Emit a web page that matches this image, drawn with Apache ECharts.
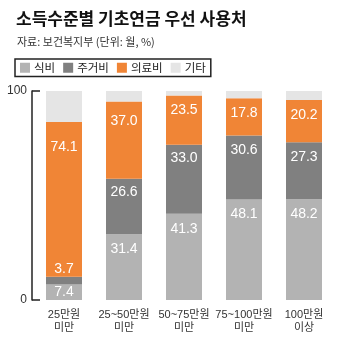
<!DOCTYPE html>
<html>
<head>
<meta charset="utf-8">
<script src="https://cdn.jsdelivr.net/npm/echarts@6/dist/echarts.min.js"></script>
<style>
html,body{margin:0;padding:0;background:#fff;}
#c{width:350px;height:351px;}
</style>
</head>
<body>
<div id="c"></div>
<script>
const categories = ['25만원\n미만', '25~50만원\n미만', '50~75만원\n미만', '75~100만원\n미만', '100만원\n이상'];
const seriesNames = ['식비', '주거비', '의료비', '기타'];
const food = [7.4, 31.4, 41.3, 48.1, 48.2];
const housing = [3.7, 26.6, 33.0, 30.6, 27.3];
const medical = [74.1, 37.0, 23.5, 17.8, 20.2];
const other = [14.8, 5.0, 2.2, 3.5, 4.3];
const yTicks = [0, 100];

const colors = ['#b3b3b3', '#808080', '#f08536', '#e5e5e5'];
const values = [food, housing, medical, other];
const labelFont = "'Liberation Sans', 'Noto Sans CJK KR', sans-serif";
// label placement tweaks (style only), keyed by series index and data index
const labelTweaks = {
  '0-0': {position: 'inside', distance: 0},
  '1-0': {position: 'top', distance: 1},
  '2-0': {distance: 18},
  '2-1': {distance: 13},
  '1-1': {distance: 6},
  '1-2': {distance: 6}
};

const series = seriesNames.map((name, si) => ({
  name: name,
  type: 'bar',
  stack: 'total',
  barWidth: 36,
  itemStyle: {color: colors[si]},
  label: {
    show: si < 3,
    position: 'insideTop',
    distance: 8,
    color: '#fff',
    fontSize: 14,
    fontFamily: labelFont,
    formatter: p => p.value.toFixed(1)
  },
  data: values[si].map((v, i) => {
    const t = labelTweaks[si + '-' + i];
    return t ? {value: v, label: t} : v;
  })
}));

const chart = echarts.init(document.getElementById('c'), null, {renderer: 'canvas'});
chart.setOption({
  animation: false,
  title: [
    {text: '소득수준별 기초연금 우선 사용처', left: 11, top: 5,
     textStyle: {fontSize: 17, fontWeight: 'bold', color: '#111', fontFamily: "'Noto Sans CJK KR', sans-serif"}},
    {text: '자료: 보건복지부 (단위: 월, %)', left: 12, top: 31,
     textStyle: {fontSize: 11, fontWeight: 'normal', color: '#333', fontFamily: "'Noto Sans CJK KR', sans-serif"}}
  ],
  legend: {
    left: 15, top: 59,
    data: seriesNames,
    icon: 'rect',
    itemWidth: 10, itemHeight: 10,
    itemGap: 8,
    padding: [3, 5],
    borderColor: '#222', borderWidth: 1.5,
    selectedMode: false,
    textStyle: {fontSize: 11.5, color: '#222', fontFamily: "'Noto Sans CJK KR', sans-serif", padding: [0, 0, 0, -1]}
  },
  grid: {left: 34, right: 16, top: 91, bottom: 51},
  xAxis: {
    type: 'category',
    data: categories,
    axisLine: {show: false},
    axisTick: {show: false},
    axisLabel: {
      interval: 0, margin: 8, fontSize: 11, lineHeight: 13, color: '#333',
      fontFamily: "'Liberation Sans', 'Noto Sans CJK KR', sans-serif"
    }
  },
  yAxis: {
    type: 'value',
    min: yTicks[0], max: yTicks[yTicks.length - 1], interval: 100,
    offset: 2,
    axisLine: {show: true, lineStyle: {color: '#222', width: 1.5}},
    axisTick: {show: true, inside: true, length: 8, lineStyle: {color: '#222', width: 1.5}},
    splitLine: {show: false},
    axisLabel: {margin: 5, fontSize: 12, color: '#333', fontFamily: "'Liberation Sans', sans-serif"}
  },
  series: series
});
</script>
</body>
</html>
